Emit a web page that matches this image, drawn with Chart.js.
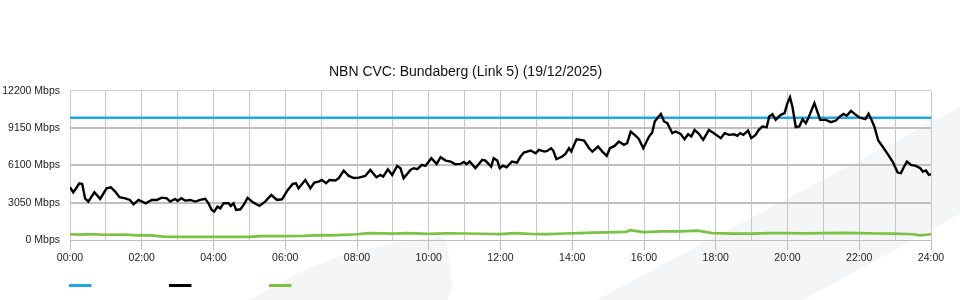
<!DOCTYPE html>
<html><head><meta charset="utf-8">
<script src="https://cdn.jsdelivr.net/npm/chart.js@4/dist/chart.umd.min.js"></script>
<style>html,body{margin:0;padding:0;background:#fff}</style>
</head><body>
<canvas id="c" width="960" height="300" style="width:960px;height:300px;display:block"></canvas>
<script>
const chartTitle = 'NBN CVC: Bundaberg (Link 5) (19/12/2025)';
const seriesNames = ['Capacity', 'Traffic', 'Green'];
const yTickValues = [0, 3050, 6100, 9150, 12200];
const xTickHours = [0,2,4,6,8,10,12,14,16,18,20,22,24];

const capacityT = [0, 24];
const capacityV = [10000, 10000];

const trafficT = [0,0.09,0.19,0.26,0.34,0.42,0.51,0.68,0.84,1.02,1.14,1.26,1.38,1.54,1.67,1.77,1.91,2.11,2.28,2.42,2.56,2.7,2.79,2.93,3.0,3.1,3.21,3.35,3.49,3.63,3.77,3.86,3.95,4.02,4.11,4.19,4.28,4.42,4.48,4.56,4.63,4.75,4.84,4.95,5.1,5.28,5.44,5.61,5.77,5.91,6.07,6.21,6.3,6.37,6.56,6.7,6.81,6.93,7.02,7.14,7.23,7.4,7.49,7.63,7.77,7.91,8.05,
8.23,8.37,8.54,8.65,8.73,8.86,8.98,9.12,9.21,9.3,9.49,9.58,9.68,9.81,9.91,10.07,10.22,10.33,10.47,10.61,10.74,10.88,10.98,11.05,11.14,11.3,11.49,11.58,11.74,11.81,11.91,11.98,12.07,12.17,12.32,12.46,12.56,12.65,12.84,12.98,13.07,13.23,13.3,13.41,13.47,13.56,13.72,13.81,13.91,13.97,14.12,14.23,14.33,14.47,14.56,14.72,14.84,14.96,15.05,15.18,15.3,15.44,15.53,15.63,15.77,15.86,15.98,16.14,16.23,16.3,16.37,
16.47,16.56,16.65,16.79,16.88,17.02,17.13,17.23,17.32,17.41,17.53,17.65,17.81,17.95,18.14,18.25,18.37,18.51,18.6,18.68,18.77,18.9,18.99,19.11,19.2,19.3,19.42,19.49,19.58,19.67,19.81,19.92,19.99,20.07,20.14,20.23,20.33,20.42,20.51,20.6,20.75,20.91,21.07,21.21,21.35,21.44,21.56,21.65,21.77,21.88,22.0,22.17,22.26,22.34,22.42,22.53,22.65,22.79,22.93,23.07,23.16,23.24,23.33,23.44,23.58,23.7,23.77,23.86,23.94,24];
const trafficV = [4315,3900,4315,4640,4585,3410,3140,3900,3360,4230,4315,3960,3495,3410,3275,2920,3275,3000,3275,3275,3465,3410,3140,3360,3190,3410,3220,3275,3140,3275,3360,3000,2456,2320,2730,2590,3000,3000,2785,3000,2456,2510,2865,3440,3080,2785,3140,3680,3275,3330,4095,4585,4640,4230,4910,4230,4690,4775,4910,4640,4910,4860,5050,5675,5240,5070,5100,
5240,5730,5130,5320,5185,5785,5320,6060,5870,5050,5730,5870,5785,6140,6060,6690,6220,6770,6495,6415,6195,6220,6385,6195,6415,5870,6550,6495,6005,6690,6495,5870,6085,5950,6415,6330,6825,7150,7315,7095,7370,7230,7285,7505,7315,6605,6825,7040,7505,7230,8240,8190,8135,7505,7230,7640,7230,6880,7505,7695,8050,7780,7915,8870,8515,8240,7505,8460,8790,9690,9960,
10300,9690,9550,8735,8870,8680,8240,8650,8460,9005,8680,8190,9005,8735,8325,8735,8600,8650,8515,8735,8600,8950,8325,8600,9005,9280,9225,10100,10290,9825,10235,10370,11135,11680,10860,9225,9280,9880,9550,10100,11190,9825,9825,9635,9770,10045,10315,10155,10560,10290,10015,9880,10315,9825,9280,8135,7640,7040,6415,5515,5460,5950,6415,6140,6060,5870,5595,5680,5320,5375];

const greenT = [0,0.3,0.5,1,1.5,1.9,2.2,2.6,3,4,5,5.3,6,6.5,7,7.3,8,8.3,9,9.4,10,10.5,11,11.5,12,12.4,12.8,13.3,13.8,14.2,14.6,15,15.5,15.6,16,16.5,17,17.5,17.9,18.5,19,19.5,20,20.5,21,21.5,22,22.5,23,23.5,23.7,24];
const greenV = [470,440,480,430,440,380,400,270,260,250,260,320,320,330,400,380,470,560,520,570,500,540,530,510,480,570,500,480,530,560,600,620,660,800,640,700,700,760,560,520,520,560,560,540,560,580,560,530,520,470,380,470];

const colors = ['#1ea7e1', '#000000', '#7cc242'];
const fnt = {family: '"Liberation Sans", Arial, sans-serif', size: 10.5};

const toXY = (t, v) => t.map((x, i) => ({x: x, y: v[i]}));

const bgPlugin = {
  id: 'bg',
  beforeDraw(chart) {
    const c = chart.ctx;
    c.save();
    c.fillStyle = '#ffffff';
    c.fillRect(0, 0, chart.width, chart.height);
    c.fillStyle = '#f4f5f7';
    c.beginPath();
    c.moveTo(250, 300); c.lineTo(300, 272); c.lineTo(350, 252); c.lineTo(400, 242);
    c.lineTo(440, 237); c.lineTo(447, 240); c.lineTo(452, 287); c.lineTo(447, 300);
    c.closePath(); c.fill();
    c.beginPath();
    c.moveTo(596, 300); c.lineTo(960, 107); c.lineTo(960, 214); c.lineTo(803, 300);
    c.closePath(); c.fill();
    c.restore();
  }
};
const legendPlugin = {
  id: 'lineLegend',
  afterDraw(chart) {
    const c = chart.ctx;
    c.save();
    chart.data.datasets.forEach((ds, i) => {
      c.strokeStyle = ds.borderColor;
      c.lineWidth = 3;
      c.beginPath();
      c.moveTo(69 + 100 * i, 285.5);
      c.lineTo(91.5 + 100 * i, 285.5);
      c.stroke();
    });
    c.restore();
  }
};

new Chart(document.getElementById('c'), {
  type: 'line',
  data: {
    datasets: [
      {label: seriesNames[0], data: toXY(capacityT, capacityV), borderColor: colors[0], borderWidth: 2.5, pointRadius: 0, tension: 0, order: 1},
      {label: seriesNames[1], data: toXY(trafficT, trafficV), borderColor: colors[1], borderWidth: 2.4, pointRadius: 0, tension: 0, order: 0},
      {label: seriesNames[2], data: toXY(greenT, greenV), borderColor: colors[2], borderWidth: 2.7, pointRadius: 0, tension: 0, order: 2}
    ]
  },
  options: {
    responsive: false,
    animation: false,
    devicePixelRatio: 1,
    layout: {padding: {left: 0, right: 29, top: 0, bottom: 0}},
    plugins: {
      legend: {display: false},
      tooltip: {enabled: false},
      title: {display: true, text: chartTitle, color: '#111', font: {family: fnt.family, size: 14, weight: 'normal'}, padding: {top: 64, bottom: 10}}
    },
    scales: {
      x: {
        type: 'linear', min: 0, max: 24,
        afterBuildTicks: s => { s.ticks = Array.from({length: 25}, (_, h) => ({value: h})); },
        ticks: {autoSkip: false, maxRotation: 0, padding: 2, color: '#222', font: fnt,
          callback: v => xTickHours.includes(v) ? String(v).padStart(2, '0') + ':00' : ''},
        grid: {color: '#c8c8c8', lineWidth: 1, tickLength: 10,
          tickColor: ctx => (ctx.tick && xTickHours.includes(ctx.tick.value)) ? '#c0c0c0' : 'rgba(0,0,0,0)'},
        border: {color: '#c0c0c0', width: 1},
        afterFit: s => { s.height = 60; }
      },
      y: {
        min: 0, max: 12200,
        afterBuildTicks: s => { s.ticks = yTickValues.map(v => ({value: v})); },
        ticks: {padding: 10, color: '#222', font: fnt, callback: v => v + ' Mbps'},
        grid: {drawTicks: false,
          color: ctx => (ctx.tick && ctx.tick.value === 12200) ? '#d0d0d0' : '#c0c0c0',
          lineWidth: ctx => (ctx.tick && (ctx.tick.value === 12200 || ctx.tick.value === 0)) ? 1 : 2},
        border: {display: false},
        afterFit: s => { s.width = 70; }
      }
    }
  },
  plugins: [bgPlugin, legendPlugin]
});
</script>
</body></html>
